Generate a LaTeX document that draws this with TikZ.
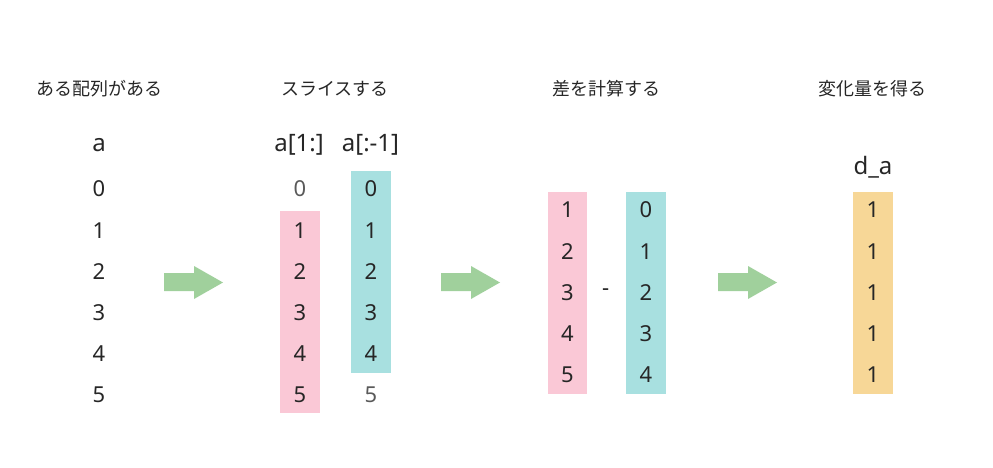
\documentclass[tikz,border=0pt]{standalone}
\usepackage{fontspec}
\setmainfont{Noto Sans}
\newfontfamily\jp{Noto Sans CJK JP}
\definecolor{txt}{HTML}{262626}
\definecolor{dim}{HTML}{5A5A5A}
\definecolor{pinkc}{HTML}{FAC8D6}
\definecolor{cyanc}{HTML}{A8E0E0}
\definecolor{orangec}{HTML}{F7D797}
\definecolor{greenc}{HTML}{A0D09C}
\begin{document}
\begin{tikzpicture}[x=1pt,y=-1pt,
 title/.style={font=\jp\fontsize{18}{18}\selectfont, text=txt, anchor=base, inner sep=0pt},
 lbl/.style={font=\fontsize{24}{24}\selectfont, text=txt, anchor=base, inner sep=0pt},
 num/.style={font=\fontsize{22}{22}\selectfont, text=txt, inner sep=0pt, text height=15.7pt, text depth=0pt},
 numdim/.style={num, text=dim},
 band/.style={inner sep=0pt, anchor=north west, minimum width=40pt, minimum height=202pt}]
\useasboundingbox (0,0) rectangle (993,468);
% titles
\node[title] (t1) at (99.5,96) {ある配列がある};
\node[title] (t2) at (335,96) {スライスする};
\node[title] (t3) at (606,96) {差を計算する};
\node[title] (t4) at (872,96) {変化量を得る};
% bands
\node[band, fill=pinkc] (bp1) at (280,211) {};
\node[band, fill=cyanc] (bc1) at (351,171) {};
\node[band, fill=pinkc, minimum width=39pt] (bp2) at (548,192) {};
\node[band, fill=cyanc] (bc2) at (626,192) {};
\node[band, fill=orangec] (bo) at (853,192) {};
% labels
\node[lbl] (la) at (99,151) {a};
\node[lbl] (lb) at (299,151) {a[1:]};
\node[lbl] (lc) at (370.5,151) {a[:-1]};
\node[lbl] (ld) at (873,175) {d\_a};
% column a
\foreach \v [count=\i from 0] in {0,1,2,3,4,5}
  \node[num] (a\i) at (99,189+41.2*\i) {\v};
% a[1:]
\node[numdim] (b0) at (300,189) {0};
\foreach \v [count=\i from 1] in {1,2,3,4,5}
  \node[num] (b\i) at (300,189+41.2*\i) {\v};
% a[:-1]
\foreach \v [count=\i from 0] in {0,1,2,3,4}
  \node[num] (c\i) at (371,189+41.2*\i) {\v};
\node[numdim] (c5) at (371,395) {5};
% difference
\foreach \v [count=\i from 0] in {1,2,3,4,5}
  \node[num] (d\i) at (567.5,210+41.2*\i) {\v};
\node[font=\fontsize{22}{22}\selectfont, text=txt, inner sep=0pt] (minus) at (605.7,292.5) {-};
\foreach \v [count=\i from 0] in {0,1,2,3,4}
  \node[num] (e\i) at (646,210+41.2*\i) {\v};
% result
\foreach \i in {0,...,4}
  \node[num] (f\i) at (873,210+41.2*\i) {1};
% arrows
\foreach \s in {0,277,554}
  \fill[greenc] (164+\s,273) -- (194+\s,273) -- (194+\s,266) -- (223+\s,282.5)
    -- (194+\s,299) -- (194+\s,291) -- (164+\s,291) -- cycle;
\end{tikzpicture}
\end{document}
